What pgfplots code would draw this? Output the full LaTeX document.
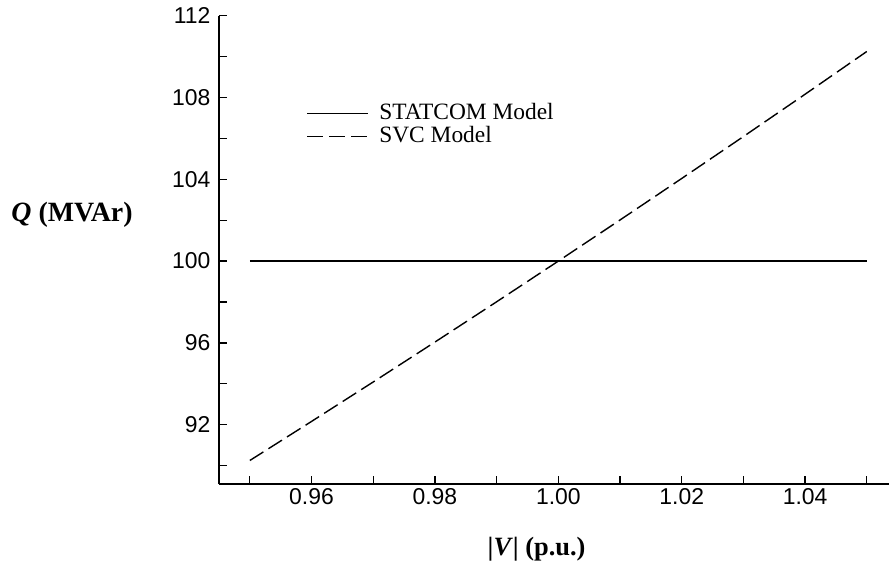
\documentclass[border=0pt]{standalone}
\usepackage{pgfplots}
\pgfplotsset{compat=1.18}
\usepackage{fontspec}
\setmainfont{Liberation Serif}
\newfontfamily\arialf{Liberation Sans}
\begin{document}
\begin{tikzpicture}
\begin{axis}[
  scale only axis, width=670bp, height=468.3bp,
  xmin=0.945, xmax=1.0536, ymin=89.1, ymax=112,
  axis lines=left, axis line style={-, line width=2.4bp},
  xtick={0.95,0.96,0.97,0.98,0.99,1.00,1.01,1.02,1.03,1.04,1.05},
  xticklabels={,0.96,,0.98,,1.00,,1.02,,1.04,},
  ytick={90,92,94,96,98,100,102,104,106,108,110,112},
  yticklabels={,92,,96,,100,,104,,108,,112},
  tick align=inside, major tick length=8bp,
  tick style={line width=1.3bp, black},
  ticklabel style={font=\arialf\fontsize{23}{26}\selectfont},
  xticklabel style={yshift=-1bp},
  yticklabel style={xshift=-5bp},
  clip=false,
  legend style={draw=none, fill=none, at={(rel axis cs:0.126,0.822)}, anchor=north west,
    font=\fontsize{23.5}{26}\selectfont, row sep=-1bp,
    nodes={text height=17bp, text depth=5bp, inner sep=1bp},
    cells={anchor=west}},
  legend image code/.code={\draw[#1] (0bp,0bp) -- (61bp,0bp); \path[draw=none] (0bp,0bp) -- (71bp,0bp);},
]
\addplot[black, line width=1.3bp] coordinates {(0.95,100) (1.05,100)};
\addlegendentry{STATCOM Model}
\addplot[black, line width=1.4bp, dash pattern=on 16bp off 6bp] coordinates {
(0.95,90.25) (0.96,92.16) (0.97,94.09) (0.98,96.04) (0.99,98.01) (1.00,100)
(1.01,102.01) (1.02,104.04) (1.03,106.09) (1.04,108.16) (1.05,110.25)};
\addlegendentry{SVC Model}
\node[font=\bfseries\fontsize{28}{32}\selectfont] at (rel axis cs:0,0.575) [xshift=-147bp] {\textit{Q} (MVAr)};
\node[font=\bfseries\fontsize{26.5}{30}\selectfont] at (rel axis cs:0.474,0) [yshift=-65bp] {|\textit{V}| (p.u.)};
\end{axis}
\pgfresetboundingbox
\path[use as bounding box] ([xshift=-219bp,yshift=-95bp]current axis.south west) rectangle ([xshift=1bp,yshift=15.7bp]current axis.north east);
\end{tikzpicture}
\end{document}
